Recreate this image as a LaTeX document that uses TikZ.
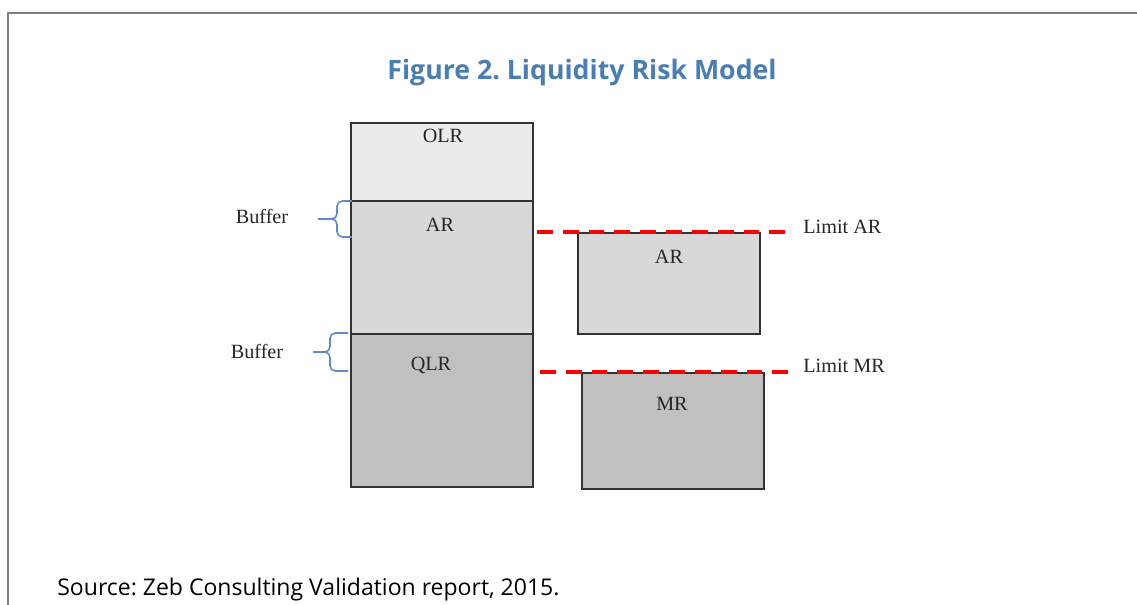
\documentclass[tikz,border=0pt]{standalone}
\usepackage{fontspec}
\setmainfont{Liberation Serif}
\newfontfamily\capfont{Open Sans}
\usepackage{xcolor}
\usepackage{tikz}
\usetikzlibrary{positioning}
\frenchspacing

\definecolor{titleblue}{RGB}{74,126,176}
\definecolor{braceblue}{RGB}{94,140,200}
\definecolor{framegray}{RGB}{127,127,127}
\definecolor{lightfill}{RGB}{235,235,235}
\definecolor{midfill}{RGB}{216,216,216}
\definecolor{darkfill}{RGB}{192,192,192}

\tikzset{%
  box/.style={draw=black!80, line width=1.3pt, anchor=north west, inner sep=0pt, minimum width=3.64cm},
  lbl/.style={text=black!85, font=\fontsize{11.5}{13}\selectfont, anchor=base},
  buffer/.style={draw=braceblue, line width=0.9pt, rounded corners=3pt},
  limit/.style={draw=red, line width=2.5pt, dash pattern=on 9pt off 5.7pt}
}

\begin{document}
\begin{tikzpicture}[x=0.02cm, y=-0.02cm]
      \useasboundingbox (0,0) rectangle (1137,605);
      \draw[framegray, line width=1.1pt] (8,605) -- (8,13) -- (1137,13);

      \node[anchor=base, text=titleblue, font=\capfont\bfseries\fontsize{15.2}{18}\selectfont] (title) at (582,79) {Figure 2. Liquidity Risk Model};

      % left column
      \node[box, fill=lightfill, minimum height=1.56cm] (olr) at (350,122) {};
      \node[box, fill=midfill, minimum height=2.66cm] (ar) at (350,200) {};
      \node[box, fill=darkfill, minimum height=3.06cm] (qlr) at (350,333) {};

      \node[lbl] (olrtxt) at (443,142) {OLR};
      \node[lbl] (artxt) at (440,231) {AR};
      \node[lbl] (qlrtxt) at (431,370) {QLR};

      % right column
      \node[box, fill=midfill, minimum height=2.02cm] (arr) at (577,232) {};
      \node[box, fill=darkfill, minimum height=2.32cm] (mr) at (581,372) {};

      \node[lbl] (arrtxt) at (669,263) {AR};
      \node[lbl] (mrtxt) at (672,410) {MR};

      % buffers
      \draw[buffer] (352,201) -| (337,219) -- (318,219);
      \draw[buffer] (318,219) -- (337,219) |- (352,237);
      \node[lbl] (buf1) at (262,223) {Buffer};

      \draw[buffer] (348,333) -| (330,352) -- (313,352);
      \draw[buffer] (313,352) -- (330,352) |- (348,371);
      \node[lbl] (buf2) at (257,358) {Buffer};

      % limits
      \coordinate (limarl) at (537,232);
      \coordinate (limarr) at (792,232);
      \coordinate (limmrl) at (540,372);
      \coordinate (limmrr) at (795,372);
      \draw[limit] (limarl) -- (limarr);
      \draw[limit] (limmrl) -- (limmrr);
      \node[lbl, anchor=base west, inner sep=0pt] (limar) at (803,233) {Limit AR};
      \node[lbl, anchor=base west, inner sep=0pt] (limmr) at (803,372) {Limit MR};

      \node[anchor=base west, inner sep=0pt, font=\capfont\fontsize{13.1}{15}\selectfont] (source) at (57,595) {Source: Zeb Consulting Validation report, 2015.};

      % \draw[step=50, gray, very thin] (0,0) grid (1137,605);
\end{tikzpicture}
\end{document}
